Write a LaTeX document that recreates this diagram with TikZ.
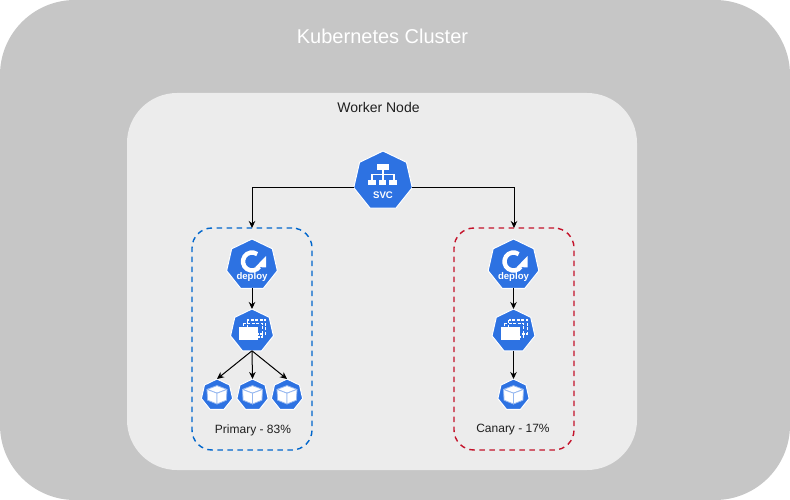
\documentclass[tikz,border=0pt]{standalone}
\usepackage{fontspec}
\setmainfont{Liberation Sans}
\usetikzlibrary{shapes.geometric,arrows.meta}
\definecolor{kblue}{HTML}{2D72E2}
\definecolor{clustergray}{HTML}{C6C6C6}
\definecolor{workergray}{HTML}{ECECEC}
\definecolor{primaryblue}{HTML}{0066CC}
\definecolor{canaryred}{HTML}{C4122A}
\tikzset{
  hept/.style={regular polygon,regular polygon sides=7,fill=kblue,draw=white,line width=1pt,line join=round,inner sep=0pt,outer sep=0pt},
  svcicon/.style={hept,minimum size=60pt},
  deployicon/.style={hept,minimum size=52pt},
  rsicon/.style={hept,minimum size=44pt},
  podicon/.style={hept,minimum size=32pt},
  container/.style={rectangle,rounded corners=20pt,draw,line width=1.4pt,dash pattern=on 5.5pt off 4.5pt,minimum width=120pt,minimum height=222pt,inner sep=0pt,outer sep=0pt},
  areabox/.style={rectangle,inner sep=0pt,outer sep=0pt},
  link/.style={-{Stealth[length=7pt,width=6.5pt]},line width=1pt,black},
  caption/.style={font=\fontsize{12}{14}\selectfont,text=black!88,inner sep=0pt},
  deployglyph/.pic={
    \draw[white,line width=4.4pt] (-35:9pt)++(0,-3.5) arc[start angle=-35,end angle=-305,radius=9pt];
    \fill[white] (14,-9) -- (3.4,2) -- (14,2.4) -- cycle;
    \node[text=white,inner sep=0pt,font=\bfseries\fontsize{9.6}{10}\selectfont] (-t) at (0,12) {deploy};
  },
  rsglyph/.pic={
    \draw[white,line width=1.3pt,dash pattern=on 3pt off 1.5pt] (-4.7,-11) rectangle (13.7,3);
    \draw[white,line width=1.3pt,dash pattern=on 3pt off 1.5pt] (-8.7,-7.7) rectangle (10.3,6);
    \fill[white] (-12.7,-3.7) rectangle (6.3,9.3);
  },
  podglyph/.pic={
    \begin{scope}[draw=kblue!50!white,line width=0.8pt,line join=round,fill=white]
      \filldraw (0,-9.4) -- (10,-5.6) -- (0,-1.8) -- (-10,-5.6) -- cycle;
      \filldraw (-10,-5.6) -- (0,-1.8) -- (0,9) -- (-9.4,5.2) -- cycle;
      \filldraw (10,-5.6) -- (0,-1.8) -- (0,9) -- (9.4,5.2) -- cycle;
    \end{scope}
  },
  svcglyph/.pic={
    \draw[white,line width=1.2pt] (0,-12) -- (0,-1);
    \draw[white,line width=1.2pt] (-11,-1) -- (-11,-6.5) -- (11,-6.5) -- (11,-1);
    \fill[white] (-6.3,-17.3) rectangle (6.2,-11.4);
    \fill[white] (-15,-1.4) rectangle (-7,4.4);
    \fill[white] (-4.3,-1.4) rectangle (3,4.4);
    \fill[white] (6.3,-1.4) rectangle (13.7,4.4);
    \node[text=white,inner sep=0pt,font=\bfseries\fontsize{9.6}{10}\selectfont] (-t) at (0,14) {SVC};
  }
}
\begin{document}
\begin{tikzpicture}[x=1pt,y=-1pt]
\useasboundingbox (0,0) rectangle (790,500);
\fill[white] (0,0) rectangle (790,500);
\node[areabox,fill=clustergray,rounded corners=75pt,minimum width=790pt,minimum height=500pt] (cluster) at (395,250) {};
\node[areabox,fill=workergray,rounded corners=50pt,minimum width=510pt,minimum height=377pt] (worker) at (382,281.5) {};
\node[text=white,inner sep=0pt,font=\fontsize{20}{22}\selectfont] (clusterlabel) at (382.5,36) {Kubernetes Cluster};
\node[text=black!88,inner sep=0pt,font=\fontsize{14}{16}\selectfont] (workerlabel) at (378.5,107) {Worker Node};

\node[container,draw=primaryblue] (primary) at (252,339) {};
\node[container,draw=canaryred] (canary) at (514,339) {};

\node[svcicon] (svc) at (383,181) {};
\node[deployicon] (dl) at (252,265) {};
\node[rsicon] (rl) at (252,331) {};
\node[podicon] (p1) at (217,395) {};
\node[podicon] (p2) at (252.5,395) {};
\node[podicon] (p3) at (287,395) {};
\node[deployicon] (dr) at (513.5,265) {};
\node[rsicon] (rr) at (513.5,331) {};
\node[podicon] (p4) at (513.5,395) {};

\pic (gs) at (svc) {svcglyph};
\pic (gdl) at (dl) {deployglyph};
\pic (gdr) at (dr) {deployglyph};
\pic at (rl) {rsglyph};
\pic at (rr) {rsglyph};
\pic at (p1) {podglyph};
\pic at (p2) {podglyph};
\pic at (p3) {podglyph};
\pic at (p4) {podglyph};

\draw[link] (svc.corner 3) -| (primary.north);
\draw[link] (svc.corner 6) -| (canary.north);
\draw[link] (dl.south) -- (rl.north);
\draw[link] (dr.south) -- (rr.north);
\draw[link] (rl.south) -- (p1.north);
\draw[link] (rl.south) -- (p2.north);
\draw[link] (rl.south) -- (p3.north);
\draw[link] (rr.south) -- (p4.north);

\node[caption] (primarylabel) at (253,430) {Primary - 83\%};
\node[caption] (canarylabel) at (513,430) {Canary - 17\%};
\end{tikzpicture}
\end{document}
